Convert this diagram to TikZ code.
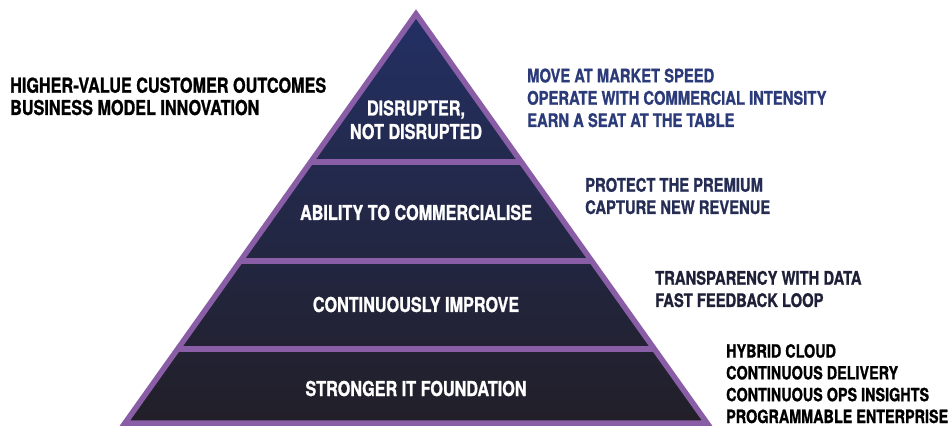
\documentclass[tikz,border=0pt]{standalone}
\usepackage{fontspec}
\setmainfont{TeX Gyre Heros}[FakeStretch=0.79, BoldFeatures={FakeBold=1}]
\usetikzlibrary{calc}

\definecolor{pyrpurple}{RGB}{137,94,166}
\definecolor{pyrtop}{RGB}{35,48,100}
\definecolor{pyrbottom}{RGB}{34,31,40}
\definecolor{speedblue}{RGB}{43,58,120}
\definecolor{premiumblue}{RGB}{38,45,85}
\definecolor{datablue}{RGB}{30,32,55}

\tikzset{
  band/.style={anchor=base, text=white, font=\bfseries\fontsize{20.5}{23.5}\selectfont, align=center},
  side/.style={anchor=base west, align=left, inner sep=0pt, font=\bfseries\fontsize{18.7}{22.3}\selectfont},
  divider/.style={pyrpurple, line width=5.5pt}
}

\begin{document}
\begin{tikzpicture}[x=1pt, y=-1pt]

  \useasboundingbox (0,0) rectangle (950,427);

  % corners of the pyramid
  \coordinate (top) at (416,14);
  \coordinate (bl) at (125,423);
  \coordinate (br) at (707,423);

  % body
	\shade[top color=pyrtop, bottom color=pyrbottom] (top) -- (bl) -- (br) -- cycle;

  % dividers
	\draw[divider] ($(top)!0.3619!(bl)$) -- ($(top)!0.3619!(br)$);
	\draw[divider] ($(top)!0.6039!(bl)$) -- ($(top)!0.6039!(br)$);
	\draw[divider] ($(top)!0.8191!(bl)$) -- ($(top)!0.8191!(br)$);

  % outline
	\draw[divider, line join=miter] (top) -- (bl) -- (br) -- cycle;

  % band labels (base = last line)
  \node[band] (disrupt) at (416,139) {DISRUPTER,\\NOT DISRUPTED};
  \node[band] (commerce) at (416,220) {ABILITY TO COMMERCIALISE};
  \node[band] (improve) at (416,312) {CONTINUOUSLY IMPROVE};
  \node[band] (found) at (416,396) {STRONGER IT FOUNDATION};

  % side texts (base = last line)
  \node[side, font=\bfseries\fontsize{20.5}{22.3}\selectfont] (outcomes) at (10,115) {HIGHER-VALUE CUSTOMER OUTCOMES\\BUSINESS MODEL INNOVATION};
  \node[side, text=speedblue] (speed) at (527,127) {MOVE AT MARKET SPEED\\OPERATE WITH COMMERCIAL INTENSITY\\EARN A SEAT AT THE TABLE};
  \node[side, text=premiumblue] (premium) at (585,214) {PROTECT THE PREMIUM\\CAPTURE NEW REVENUE};
  \node[side, text=datablue] (data) at (655,307) {TRANSPARENCY WITH DATA\\FAST FEEDBACK LOOP};
  \node[side, font=\bfseries\fontsize{18.2}{21.8}\selectfont] (cloud) at (726,423) {HYBRID CLOUD\\CONTINUOUS DELIVERY\\CONTINUOUS OPS INSIGHTS\\PROGRAMMABLE ENTERPRISE};

\end{tikzpicture}
\end{document}
